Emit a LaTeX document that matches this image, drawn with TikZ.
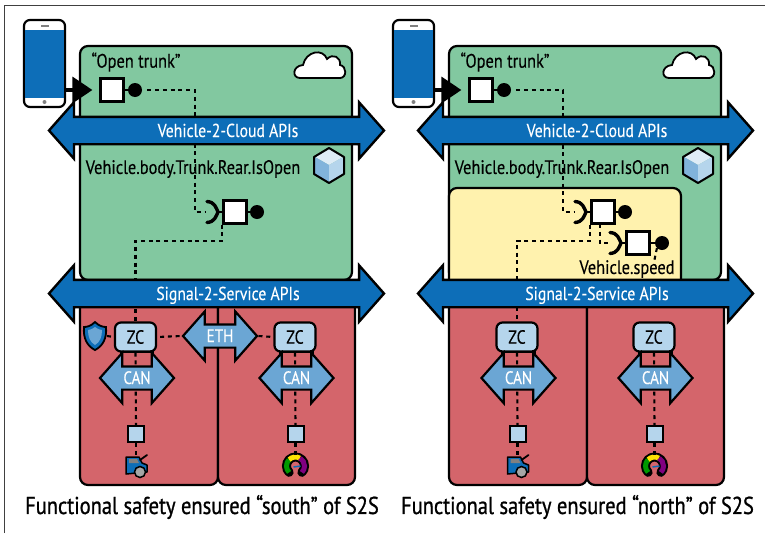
\documentclass[tikz,border=0pt]{standalone}
\usepackage{fontspec}
\setmainfont[FakeStretch=0.84, FakeBold=0.2]{PT Sans}
\newfontface\captionface[FakeStretch=0.84, FakeBold=0.9]{PT Sans}
\usetikzlibrary{arrows.meta}
\usetikzlibrary{positioning}
\usetikzlibrary{shapes.arrows}

\definecolor{cloudgreen}{HTML}{82C8A0}
\definecolor{zonered}{HTML}{D4656B}
\definecolor{apiblue}{HTML}{0D6EB8}
\definecolor{busblue}{HTML}{6BA6D4}
\definecolor{palezc}{HTML}{B5D5EC}
\definecolor{asilyellow}{HTML}{FFF2AE}

\tikzset{
    zone/.style = {draw, line width=2.2pt, rounded corners=8pt},
    apiarrow/.style = {
    shape=double arrow, draw, line width=2.4pt, fill=apiblue, text=white,
    double arrow head extend=14.5pt, double arrow tip angle=97,
    inner sep=0pt, text height=19pt, text depth=6pt, minimum height=335pt,
    font=\fontsize{18.7}{20}\selectfont
    },
    busarrow/.style = {
    shape=double arrow, draw, line width=2.2pt, fill=busblue, text=white,
    double arrow head extend=13.5pt, double arrow tip angle=97,
    inner sep=0pt, text height=16.5pt, text depth=4.5pt, minimum height=74pt,
    font=\fontsize{18}{20}\selectfont
    },
    cloudicon/.pic = {
    \draw[fill=white, line width=1.8pt] (-20,13) .. controls (-28,13) and (-28,1) .. (-17,0)
        .. controls (-14,-14) and (3,-17) .. (7,-6) .. controls (13,-12) and (21,-8) .. (20,0)
        .. controls (27,1) and (27,13) .. (20,13) -- cycle;
    },
    cubeicon/.pic = {
    \fill[palezc!45!white] (0,-16) -- (14,-8) -- (0,0) -- (-14,-8) -- cycle;
    \fill[busblue!85!white] (-14,-8) -- (0,0) -- (0,17) -- (-14,9) -- cycle;
    \fill[palezc] (14,-8) -- (0,0) -- (0,17) -- (14,9) -- cycle;
    \draw[line width=2pt, line join=round] (0,-17) -- (15,-8) -- (15,9) -- (0,18) -- (-15,9) -- (-15,-8) -- cycle;
    },
    shieldicon/.pic = {
    \draw[fill=apiblue, line width=1.8pt] (0,-14) .. controls (-4,-10) and (-8,-9) .. (-11,-9)
        .. controls (-12,2) and (-8,10) .. (0,14) .. controls (8,10) and (12,2) .. (11,-9)
        .. controls (8,-9) and (4,-10) .. (0,-14) -- cycle;
    \fill[busblue] (0,-9) .. controls (-3,-7) and (-5,-6) .. (-7,-6)
        .. controls (-7,1) and (-5,6) .. (0,9) .. controls (5,6) and (7,1) .. (7,-6)
        .. controls (5,-6) and (3,-7) .. (0,-9) -- cycle;
    },
    caricon/.pic = {
    \draw[fill=apiblue, line width=1.5pt, line join=round] (-10,-9) -- (3,-9) -- (6,-3) -- (11,-1) -- (11,6) -- (-10,8) -- cycle;
    \fill[gray] (-7,-7) -- (1,-7) -- (3,-3) -- (-7,-3) -- cycle;
    \draw[line width=1.8pt, line cap=round] (4,-6) -- (11,-11);
    \draw[fill=gray!70!white, line width=1.5pt] (4,6) circle (5.5pt);
    },
    gaugeicon/.pic = {
    \draw[line width=9pt, line cap=round] (225:9pt) arc[start angle=225, end angle=-45, radius=9pt];
    \draw[green!60!black, line width=5pt] (225:9pt) arc[start angle=225, end angle=135, radius=9pt];
    \draw[yellow!85!orange, line width=5pt] (135:9pt) arc[start angle=135, end angle=60, radius=9pt];
    \draw[violet, line width=5pt] (60:9pt) arc[start angle=60, end angle=-45, radius=9pt];
    \draw[apiblue, line width=1.5pt] (-2,1) -- (5,0);
    }
}

\tikzstyle{sigline}=[line width=2.1pt, dash pattern=on 4pt off 3.8pt]
\tikzstyle{endpoint}=[draw, line width=2.2pt, fill=white, minimum size=23pt, inner sep=0pt]
\tikzstyle{pin}=[circle, fill=black, minimum size=14pt, inner sep=0pt]
\tikzstyle{zcbox}=[draw, line width=2.2pt, fill=palezc, rounded corners=6pt, minimum width=41pt, minimum height=29pt, inner sep=0pt, font=\fontsize{19}{21}\selectfont]
\tikzstyle{leaf}=[draw, line width=2pt, fill=palezc, minimum size=16pt, inner sep=0pt]
\tikzstyle{label}=[inner sep=0pt, font=\fontsize{19.5}{22}\selectfont]
\tikzstyle{caption}=[inner sep=0pt, font=\captionface\fontsize{24.4}{28}\selectfont]

\begin{document}
\begin{tikzpicture}[x=1pt, y=-1pt]

\useasboundingbox (0,0) rectangle (765,533);
\fill[white] (0,0) rectangle (765,533);
\draw[black!75, line width=1pt] (4,533) -- (4,5) -- (765,5);

% boxes behind everything
\foreach \p/\dx in {l/0, r/369} {
    \node (\p-cloud) [zone, fill=cloudgreen, minimum width=272pt, minimum height=234pt] at ({216+\dx},163) {};
}
\node (r-asil) [zone, fill=asilyellow, minimum width=232pt, minimum height=110pt] at (565,243) {};

\foreach \p/\dx/\za/\zb in {l/0/135.5/295, r/369/517/654} {
    \node (\p-west) [zone, fill=zonered, minimum width=138pt, minimum height=200pt] at ({149+\dx},385) {};
    \node (\p-east) [zone, fill=zonered, minimum width=137pt, minimum height=200pt] at ({286.5+\dx},385) {};

    \node (\p-phone) [draw, line width=2.2pt, fill=white, rounded corners=6pt, minimum width=41pt, minimum height=87pt] at ({44.5+\dx},63.5) {};
    \node (\p-screen) [fill=apiblue, minimum width=39pt, minimum height=68pt, inner sep=0pt] at ({44.5+\dx},64) {};
    \node (\p-home) [circle, fill=gray, minimum size=4pt, inner sep=0pt] at ({44.5+\dx},102) {};
    \node (\p-ear) [fill=gray, minimum width=8pt, minimum height=1.5pt, inner sep=0pt] at ({44.5+\dx},26) {};

    \node (\p-title) [label] at ({136+\dx},62) {“Open trunk”};
    \node (\p-pub) [endpoint] at ({112+\dx},90) {};
    \node (\p-pubpin) [pin] at ({135+\dx},90) {};
    \draw[line width=2.2pt] (\p-pub) -- (\p-pubpin);
    \draw[-{Triangle[length=20pt, width=26pt]}, line width=3.5pt, shorten >=7pt] (\p-phone.east |- \p-pub) -- (\p-pub.west);

    \pic at ({320+\dx},65) {cloudicon};
    \pic at ({329+\dx},165) {cubeicon};
    \node (\p-signal) [label] at ({193+\dx},169) {Vehicle.body.Trunk.Rear.IsOpen};

    % zone controllers and what hangs under them
    \node (\p-linka) [draw, line width=2.2pt, minimum width=32pt, minimum height=16pt] at ({\za+1.5},360) {};
    \node (\p-linkb) [draw, line width=2.2pt, minimum width=32pt, minimum height=16pt] at ({\zb+1.5},360) {};
    \node (\p-zca) [zcbox] at (\za,337) {ZC};
    \node (\p-zcb) [zcbox] at (\zb,337) {ZC};
    \node (\p-leafa) [leaf] at ({\za+.5},434) {};
    \node (\p-leafb) [leaf] at ({\zb+.5},434) {};
    \coordinate (\p-cara) at ({\za+.5},456);
    \coordinate (\p-gauge) at ({\zb+.5},456);
    \pic at ({\za+.5},466) {caricon};
    \pic at ({\zb+.5},466) {gaugeicon};
    \draw[sigline] (\p-zca.south) -- (\p-leafa.north);
    \draw[sigline] (\p-zcb.south) -- (\p-leafb.north);
    \draw[sigline] (\p-leafa.south) -- (\p-cara);
    \draw[sigline] (\p-leafb.south) -- (\p-gauge);
}

% left panel
\node (l-sub) [endpoint] at (235,212) {};
\node (l-subpin) [pin] at (257,212) {};
\draw[line width=2.2pt] (l-sub) -- (l-subpin);
\coordinate[left=16pt of l-sub.west] (l-socket);
\coordinate (l-bend) at (195,90);
\draw[line width=3.4pt, line cap=round] (207,201.5) .. controls (215,202) and (216,208) .. (218,212) .. controls (216,216) and (215,222) .. (207,222.5);
\draw[line width=2.2pt] (218,212) -- (l-sub.west);
\draw[sigline, shorten <=5pt] (l-pubpin.east) -- (l-bend) |- (l-socket);
\draw[sigline] (l-sub.south west) -- ++(0,16) -| (l-zca.north);

\pic at (95,336) {shieldicon};
\coordinate (l-shield) at (107,336);
\draw[sigline] (l-shield) -- (l-zca.west);

\node (l-eth) [busarrow, double arrow head extend=13pt, minimum height=74pt] at (220,336) {ETH};
\draw[sigline, shorten <=3pt] (l-zca.east) -- (l-eth.west);
\draw[sigline, shorten >=1pt] (l-eth.east) -- (l-zcb.west);

% right panel
\node (r-sub) [endpoint] at (603,212) {};
\node (r-subpin) [pin] at (625,212) {};
\node (r-speed) [endpoint] at (638,243) {};
\node (r-speedpin) [pin] at (662,243) {};
\draw[line width=2.2pt] (r-sub) -- (r-subpin);
\draw[line width=2.2pt] (r-speed) -- (r-speedpin);
\coordinate[left=16pt of r-sub.west] (r-socket);
\coordinate (r-bend) at (563,90);
\draw[line width=3.4pt, line cap=round] (575,201.5) .. controls (583,202) and (584,208) .. (586,212) .. controls (584,216) and (583,222) .. (575,222.5);
\draw[line width=2.2pt] (586,212) -- (r-sub.west);
\draw[line width=3.4pt, line cap=round] (610,232.5) .. controls (618,233) and (619,239) .. (621,243) .. controls (619,247) and (618,253) .. (610,253.5);
\draw[line width=2.2pt] (621,243) -- (r-speed.west);
\draw[sigline, shorten <=5pt] (r-pubpin.east) -- (r-bend) |- (r-socket);
\draw[sigline] (r-sub.south west) -- ++(0,16) -| (r-zca.north);
\coordinate (r-tap) at (600,224);
\coordinate[left=16pt of r-speed.west] (r-tapend);
\draw[sigline] (r-tap) |- (r-tapend);
\node (r-speedname) [label] at (627,269) {Vehicle.speed};
\coordinate (r-pindown) at (654,262);
\draw[sigline] (r-speedpin.south west) -- (r-pindown);

% arrows on top
\foreach \p/\dx/\za/\zb in {l/0/135.5/295, r/369/517/654} {
    \node (\p-v2c) [apiarrow] at ({216.5+\dx},130.5) {\hspace*{23pt}Vehicle-2-Cloud APIs};
    \node (\p-s2s) [apiarrow] at ({216.5+\dx},293.5) {\hspace*{23pt}Signal-2-Service APIs};
    \node (\p-cana) [busarrow] at ({\za+1.5},378) {CAN};
    \node (\p-canb) [busarrow] at ({\zb+1.5},378) {CAN};
}

\node (l-caption) [caption] at (202,507) {Functional safety ensured “south” of S2S};
\node (r-caption) [caption] at (577.5,507) {Functional safety ensured “north” of S2S};

\end{tikzpicture}
\end{document}
